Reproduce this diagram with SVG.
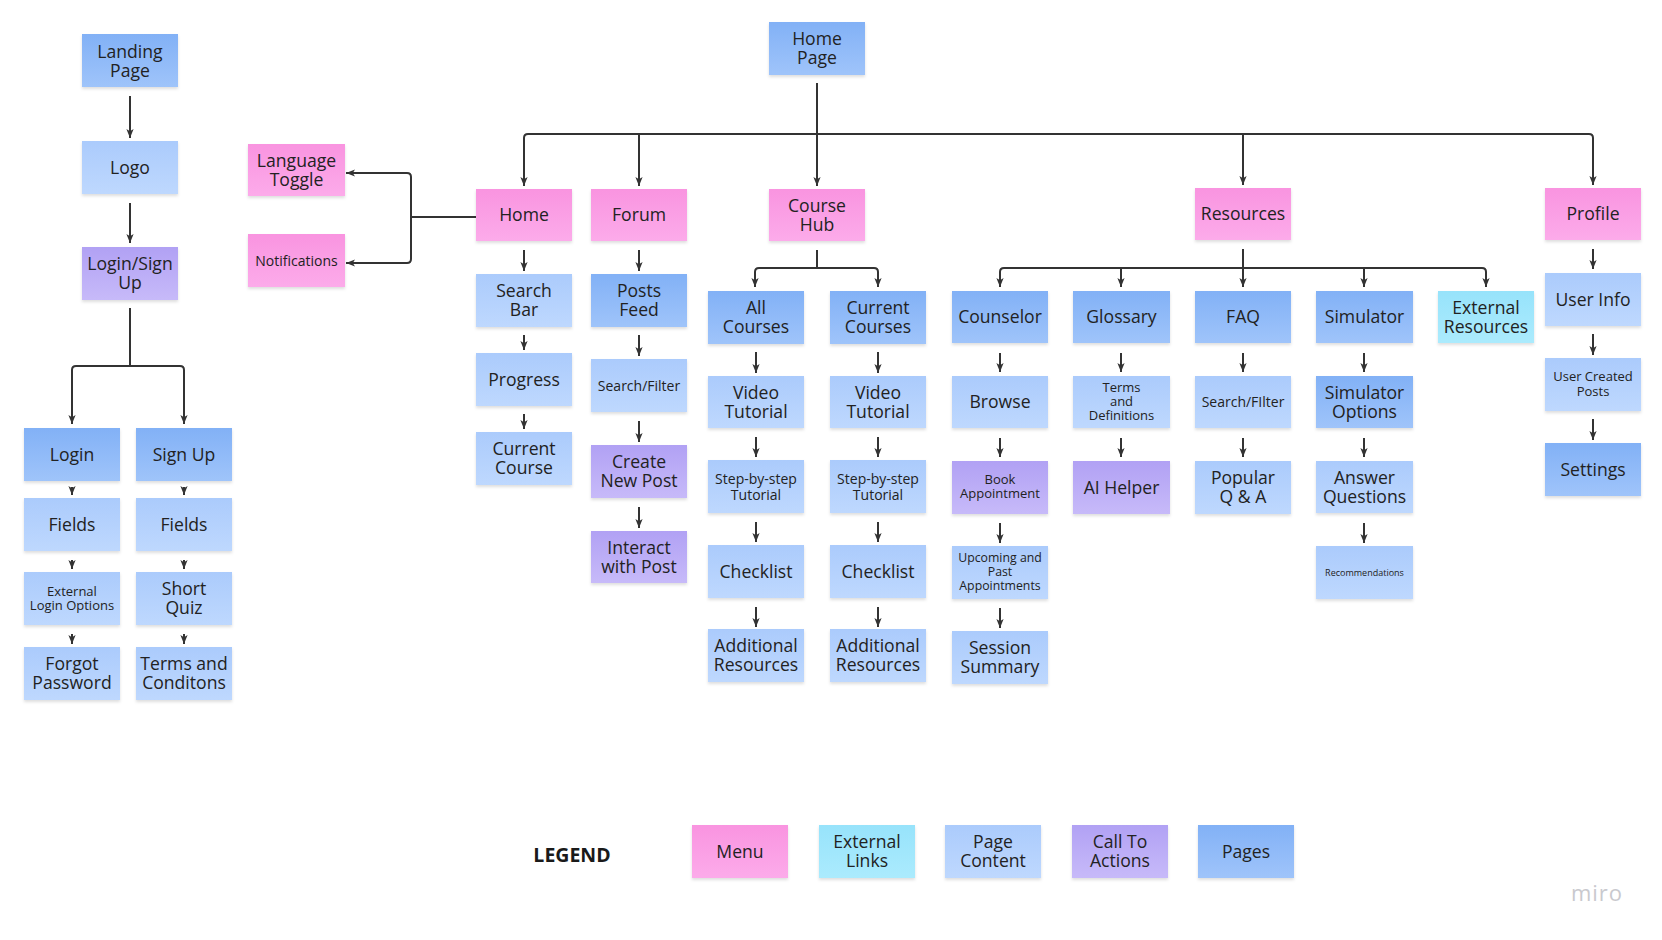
<svg xmlns="http://www.w3.org/2000/svg" width="1662" height="940" viewBox="0 0 1662 940">
<defs>
<linearGradient id="gPink" x1="0" y1="0" x2="0" y2="1"><stop offset="0" stop-color="#f994e0"/><stop offset="1" stop-color="#fcabea"/></linearGradient>
<linearGradient id="gPage" x1="0" y1="0" x2="0" y2="1"><stop offset="0" stop-color="#82b1f6"/><stop offset="1" stop-color="#9fc4fa"/></linearGradient>
<linearGradient id="gCont" x1="0" y1="0" x2="0" y2="1"><stop offset="0" stop-color="#abcbfc"/><stop offset="1" stop-color="#bed8fe"/></linearGradient>
<linearGradient id="gCta" x1="0" y1="0" x2="0" y2="1"><stop offset="0" stop-color="#b1a1f4"/><stop offset="1" stop-color="#c7baf9"/></linearGradient>
<linearGradient id="gExt" x1="0" y1="0" x2="0" y2="1"><stop offset="0" stop-color="#97e3fb"/><stop offset="1" stop-color="#abebfd"/></linearGradient>
<filter id="sh" x="-10%" y="-10%" width="120%" height="130%"><feDropShadow dx="0" dy="2" stdDeviation="1.5" flood-color="#000" flood-opacity="0.13"/></filter>
<marker id="ah" viewBox="0 0 10 10" refX="10" refY="5" markerWidth="9" markerHeight="9" markerUnits="userSpaceOnUse" orient="auto"><path d="M0,1 L10,5 L0,9 L2.5,5 z" fill="#333"/></marker>
</defs>
<style>
.n{filter:url(#sh)}
.pink{fill:url(#gPink)}
.page{fill:url(#gPage)}
.cont{fill:url(#gCont)}
.cta{fill:url(#gCta)}
.ext{fill:url(#gExt)}
text{font-family:"Open Sans","Liberation Sans",sans-serif;fill:#222;text-anchor:middle;font-size:17.6px}
.s14{font-size:14px}
.s13{font-size:13px}
.s12{font-size:12.3px}
.s9{font-size:9px}
.c path{fill:none;stroke:#333;stroke-width:2;marker-end:url(#ah)}
.c path.nm{marker-end:none}
</style>
<rect width="1662" height="940" fill="#fff"/>

<g class="c" id="connectors">
<path d="M130,96 V138"/>
<path d="M130,203 V243"/>
<path class="nm" d="M130,308 V366"/>
<path d="M130,366 H76 Q72,366 72,370 V424"/>
<path d="M130,366 H180 Q184,366 184,370 V424"/>
<path d="M72,487 V495"/><path d="M72,560 V569"/><path d="M72,634 V644"/>
<path d="M184,487 V495"/><path d="M184,560 V569"/><path d="M184,634 V644"/>
<path class="nm" d="M476,217 H411"/>
<path d="M411,217 V177 Q411,173 407,173 H346"/>
<path d="M411,217 V259 Q411,263 407,263 H346"/>
<path d="M817,83 V186"/>
<path d="M817,134 H528 Q524,134 524,138 V186"/>
<path d="M639,134 V186"/>
<path d="M817,134 H1589 Q1593,134 1593,138 V185"/>
<path d="M1243,134 V185"/>
<path d="M524,250 V271"/><path d="M524,335 V350"/><path d="M524,414 V429"/>
<path d="M639,250 V271"/><path d="M639,335 V356"/><path d="M639,421 V442"/><path d="M639,507 V528"/>
<path class="nm" d="M817,250 V268"/>
<path d="M817,268 H759 Q755,268 755,272 V287"/>
<path d="M817,268 H874 Q878,268 878,272 V287"/>
<path d="M756,352 V373"/><path d="M756,437 V457"/><path d="M756,522 V542"/><path d="M756,607 V627"/>
<path d="M878,352 V373"/><path d="M878,437 V457"/><path d="M878,522 V542"/><path d="M878,607 V627"/>
<path d="M1243,249 V287"/>
<path d="M1243,268 H1004 Q1000,268 1000,272 V287"/>
<path d="M1121,268 V287"/>
<path d="M1364,268 V287"/>
<path d="M1243,268 H1482 Q1486,268 1486,272 V287"/>
<path d="M1000,353 V372"/><path d="M1000,438 V457"/><path d="M1000,523 V543"/><path d="M1000,608 V628"/>
<path d="M1121,353 V372"/><path d="M1121,438 V457"/>
<path d="M1243,353 V372"/><path d="M1243,438 V457"/>
<path d="M1364,353 V372"/><path d="M1364,438 V457"/><path d="M1364,523 V543"/>
<path d="M1593,249 V269"/><path d="M1593,334 V355"/><path d="M1593,419 V440"/>
</g>

<!-- Left column -->
<g id="landing-page"><rect class="n page" x="82" y="34" width="96" height="53"/><text><tspan x="130" y="57.5">Landing</tspan><tspan x="130" y="76.5">Page</tspan></text></g>
<g id="logo"><rect class="n cont" x="82" y="141" width="96" height="53"/><text x="130" y="173.8">Logo</text></g>
<g id="login-signup"><rect class="n cta" x="82" y="247" width="96" height="53"/><text><tspan x="130" y="270.3">Login/Sign</tspan><tspan x="130" y="289.3">Up</tspan></text></g>
<g id="login"><rect class="n page" x="24" y="428" width="96" height="53"/><text x="72" y="460.8">Login</text></g>
<g id="signup"><rect class="n page" x="136" y="428" width="96" height="53"/><text x="184" y="460.8">Sign Up</text></g>
<g id="login-fields"><rect class="n cont" x="24" y="498" width="96" height="53"/><text x="72" y="530.8">Fields</text></g>
<g id="signup-fields"><rect class="n cont" x="136" y="498" width="96" height="53"/><text x="184" y="530.8">Fields</text></g>
<g id="external-login"><rect class="n cont" x="24" y="572" width="96" height="53"/><text class="s13"><tspan x="72" y="596">External</tspan><tspan x="72" y="610">Login Options</tspan></text></g>
<g id="short-quiz"><rect class="n cont" x="136" y="572" width="96" height="53"/><text><tspan x="184" y="595.3">Short</tspan><tspan x="184" y="614.3">Quiz</tspan></text></g>
<g id="forgot-password"><rect class="n cont" x="24" y="647" width="96" height="53"/><text><tspan x="72" y="670.3">Forgot</tspan><tspan x="72" y="689.3">Password</tspan></text></g>
<g id="terms-conditions"><rect class="n cont" x="136" y="647" width="96" height="53"/><text><tspan x="184" y="670.3">Terms and</tspan><tspan x="184" y="689.3">Conditons</tspan></text></g>

<g id="language-toggle"><rect class="n pink" x="248" y="144" width="97" height="52"/><text><tspan x="296.5" y="166.8">Language</tspan><tspan x="296.5" y="185.8">Toggle</tspan></text></g>
<g id="notifications"><rect class="n pink" x="248" y="234" width="97" height="53"/><text class="s14" x="296.5" y="265.5">Notifications</text></g>

<!-- Home page tree -->
<g id="home-page"><rect class="n page" x="769" y="22" width="96" height="53"/><text><tspan x="817" y="45.3">Home</tspan><tspan x="817" y="64.3">Page</tspan></text></g>
<g id="home"><rect class="n pink" x="476" y="189" width="96" height="52"/><text x="524" y="221.3">Home</text></g>
<g id="forum"><rect class="n pink" x="591" y="189" width="96" height="52"/><text x="639" y="221.3">Forum</text></g>
<g id="course-hub"><rect class="n pink" x="769" y="189" width="96" height="52"/><text><tspan x="817" y="211.8">Course</tspan><tspan x="817" y="230.8">Hub</tspan></text></g>
<g id="resources"><rect class="n pink" x="1195" y="188" width="96" height="52"/><text x="1243" y="220.3">Resources</text></g>
<g id="profile"><rect class="n pink" x="1545" y="188" width="96" height="52"/><text x="1593" y="220.3">Profile</text></g>

<g id="search-bar"><rect class="n cont" x="476" y="274" width="96" height="53"/><text><tspan x="524" y="297.3">Search</tspan><tspan x="524" y="316.3">Bar</tspan></text></g>
<g id="progress"><rect class="n cont" x="476" y="353" width="96" height="53"/><text x="524" y="385.8">Progress</text></g>
<g id="current-course"><rect class="n cont" x="476" y="432" width="96" height="53"/><text><tspan x="524" y="455.3">Current</tspan><tspan x="524" y="474.3">Course</tspan></text></g>

<g id="posts-feed"><rect class="n page" x="591" y="274" width="96" height="53"/><text><tspan x="639" y="297.3">Posts</tspan><tspan x="639" y="316.3">Feed</tspan></text></g>
<g id="forum-search"><rect class="n cont" x="591" y="359" width="96" height="53"/><text class="s14" x="639" y="390.5">Search/Filter</text></g>
<g id="create-post"><rect class="n cta" x="591" y="445" width="96" height="53"/><text><tspan x="639" y="468.3">Create</tspan><tspan x="639" y="487.3">New Post</tspan></text></g>
<g id="interact-post"><rect class="n cta" x="591" y="531" width="96" height="52"/><text><tspan x="639" y="553.8">Interact</tspan><tspan x="639" y="572.8">with Post</tspan></text></g>

<g id="all-courses"><rect class="n page" x="708" y="291" width="96" height="53"/><text><tspan x="756" y="314.3">All</tspan><tspan x="756" y="333.3">Courses</tspan></text></g>
<g id="ac-video"><rect class="n cont" x="708" y="376" width="96" height="52"/><text><tspan x="756" y="398.8">Video</tspan><tspan x="756" y="417.8">Tutorial</tspan></text></g>
<g id="ac-step"><rect class="n cont" x="708" y="460" width="96" height="53"/><text class="s14"><tspan x="756" y="483.5">Step-by-step</tspan><tspan x="756" y="499.5">Tutorial</tspan></text></g>
<g id="ac-checklist"><rect class="n cont" x="708" y="545" width="96" height="53"/><text x="756" y="577.8">Checklist</text></g>
<g id="ac-additional"><rect class="n cont" x="708" y="629" width="96" height="53"/><text><tspan x="756" y="652.3">Additional</tspan><tspan x="756" y="671.3">Resources</tspan></text></g>

<g id="current-courses"><rect class="n page" x="830" y="291" width="96" height="53"/><text><tspan x="878" y="314.3">Current</tspan><tspan x="878" y="333.3">Courses</tspan></text></g>
<g id="cc-video"><rect class="n cont" x="830" y="376" width="96" height="52"/><text><tspan x="878" y="398.8">Video</tspan><tspan x="878" y="417.8">Tutorial</tspan></text></g>
<g id="cc-step"><rect class="n cont" x="830" y="460" width="96" height="53"/><text class="s14"><tspan x="878" y="483.5">Step-by-step</tspan><tspan x="878" y="499.5">Tutorial</tspan></text></g>
<g id="cc-checklist"><rect class="n cont" x="830" y="545" width="96" height="53"/><text x="878" y="577.8">Checklist</text></g>
<g id="cc-additional"><rect class="n cont" x="830" y="629" width="96" height="53"/><text><tspan x="878" y="652.3">Additional</tspan><tspan x="878" y="671.3">Resources</tspan></text></g>

<g id="counselor"><rect class="n page" x="952" y="291" width="96" height="52"/><text x="1000" y="323.3">Counselor</text></g>
<g id="browse"><rect class="n cont" x="952" y="376" width="96" height="52"/><text x="1000" y="408.3">Browse</text></g>
<g id="book-appointment"><rect class="n cta" x="952" y="461" width="96" height="53"/><text class="s13"><tspan x="1000" y="484.3">Book</tspan><tspan x="1000" y="498.3">Appointment</tspan></text></g>
<g id="appointments"><rect class="n cont" x="952" y="546" width="96" height="53"/><text class="s12"><tspan x="1000" y="562">Upcoming and</tspan><tspan x="1000" y="576">Past</tspan><tspan x="1000" y="590">Appointments</tspan></text></g>
<g id="session-summary"><rect class="n cont" x="952" y="631" width="96" height="53"/><text><tspan x="1000" y="654.3">Session</tspan><tspan x="1000" y="673.3">Summary</tspan></text></g>

<g id="glossary"><rect class="n page" x="1073" y="291" width="97" height="52"/><text x="1121.5" y="323.3">Glossary</text></g>
<g id="terms-definitions"><rect class="n cont" x="1073" y="376" width="97" height="52"/><text class="s13"><tspan x="1121.5" y="392.3">Terms</tspan><tspan x="1121.5" y="406">and</tspan><tspan x="1121.5" y="420">Definitions</tspan></text></g>
<g id="ai-helper"><rect class="n cta" x="1073" y="461" width="97" height="53"/><text x="1121.5" y="493.8">AI Helper</text></g>

<g id="faq"><rect class="n page" x="1195" y="291" width="96" height="52"/><text x="1243" y="323.3">FAQ</text></g>
<g id="faq-search"><rect class="n cont" x="1195" y="376" width="96" height="52"/><text class="s14" x="1243" y="407">Search/FIlter</text></g>
<g id="popular-qa"><rect class="n cont" x="1195" y="461" width="96" height="53"/><text><tspan x="1243" y="484.3">Popular</tspan><tspan x="1243" y="503.3">Q &amp; A</tspan></text></g>

<g id="simulator"><rect class="n page" x="1316" y="291" width="97" height="52"/><text x="1364.5" y="323.3">Simulator</text></g>
<g id="simulator-options"><rect class="n page" x="1316" y="376" width="97" height="52"/><text><tspan x="1364.5" y="398.8">Simulator</tspan><tspan x="1364.5" y="417.8">Options</tspan></text></g>
<g id="answer-questions"><rect class="n cont" x="1316" y="461" width="97" height="52"/><text><tspan x="1364.5" y="483.8">Answer</tspan><tspan x="1364.5" y="502.8">Questions</tspan></text></g>
<g id="recommendations"><rect class="n cont" x="1316" y="546" width="97" height="53"/><text class="s9" x="1364.5" y="575.7">Recommendations</text></g>

<g id="external-resources"><rect class="n ext" x="1438" y="291" width="96" height="52"/><text><tspan x="1486" y="313.8">External</tspan><tspan x="1486" y="332.8">Resources</tspan></text></g>

<g id="user-info"><rect class="n cont" x="1545" y="273" width="96" height="53"/><text x="1593" y="305.8">User Info</text></g>
<g id="user-posts"><rect class="n cont" x="1545" y="358" width="96" height="53"/><text class="s13"><tspan x="1593" y="381">User Created</tspan><tspan x="1593" y="395.7">Posts</tspan></text></g>
<g id="settings"><rect class="n page" x="1545" y="443" width="96" height="53"/><text x="1593" y="475.8">Settings</text></g>

<!-- Legend -->
<g id="legend">
<text x="572" y="862" style="font-size:19.5px;font-weight:700;fill:#1a1a1a">LEGEND</text>
<g id="legend-menu"><rect class="n pink" x="692" y="825" width="96" height="53"/><text x="740" y="857.8">Menu</text></g>
<g id="legend-external"><rect class="n ext" x="819" y="825" width="96" height="53"/><text><tspan x="867" y="848.3">External</tspan><tspan x="867" y="867.3">Links</tspan></text></g>
<g id="legend-content"><rect class="n cont" x="945" y="825" width="96" height="53"/><text><tspan x="993" y="848.3">Page</tspan><tspan x="993" y="867.3">Content</tspan></text></g>
<g id="legend-cta"><rect class="n cta" x="1072" y="825" width="96" height="53"/><text><tspan x="1120" y="848.3">Call To</tspan><tspan x="1120" y="867.3">Actions</tspan></text></g>
<g id="legend-pages"><rect class="n page" x="1198" y="825" width="96" height="53"/><text x="1246" y="857.8">Pages</text></g>
</g>

<text x="1597" y="901" style="font-size:22px;fill:#c9c9ce;letter-spacing:1px">miro</text>
</svg>
